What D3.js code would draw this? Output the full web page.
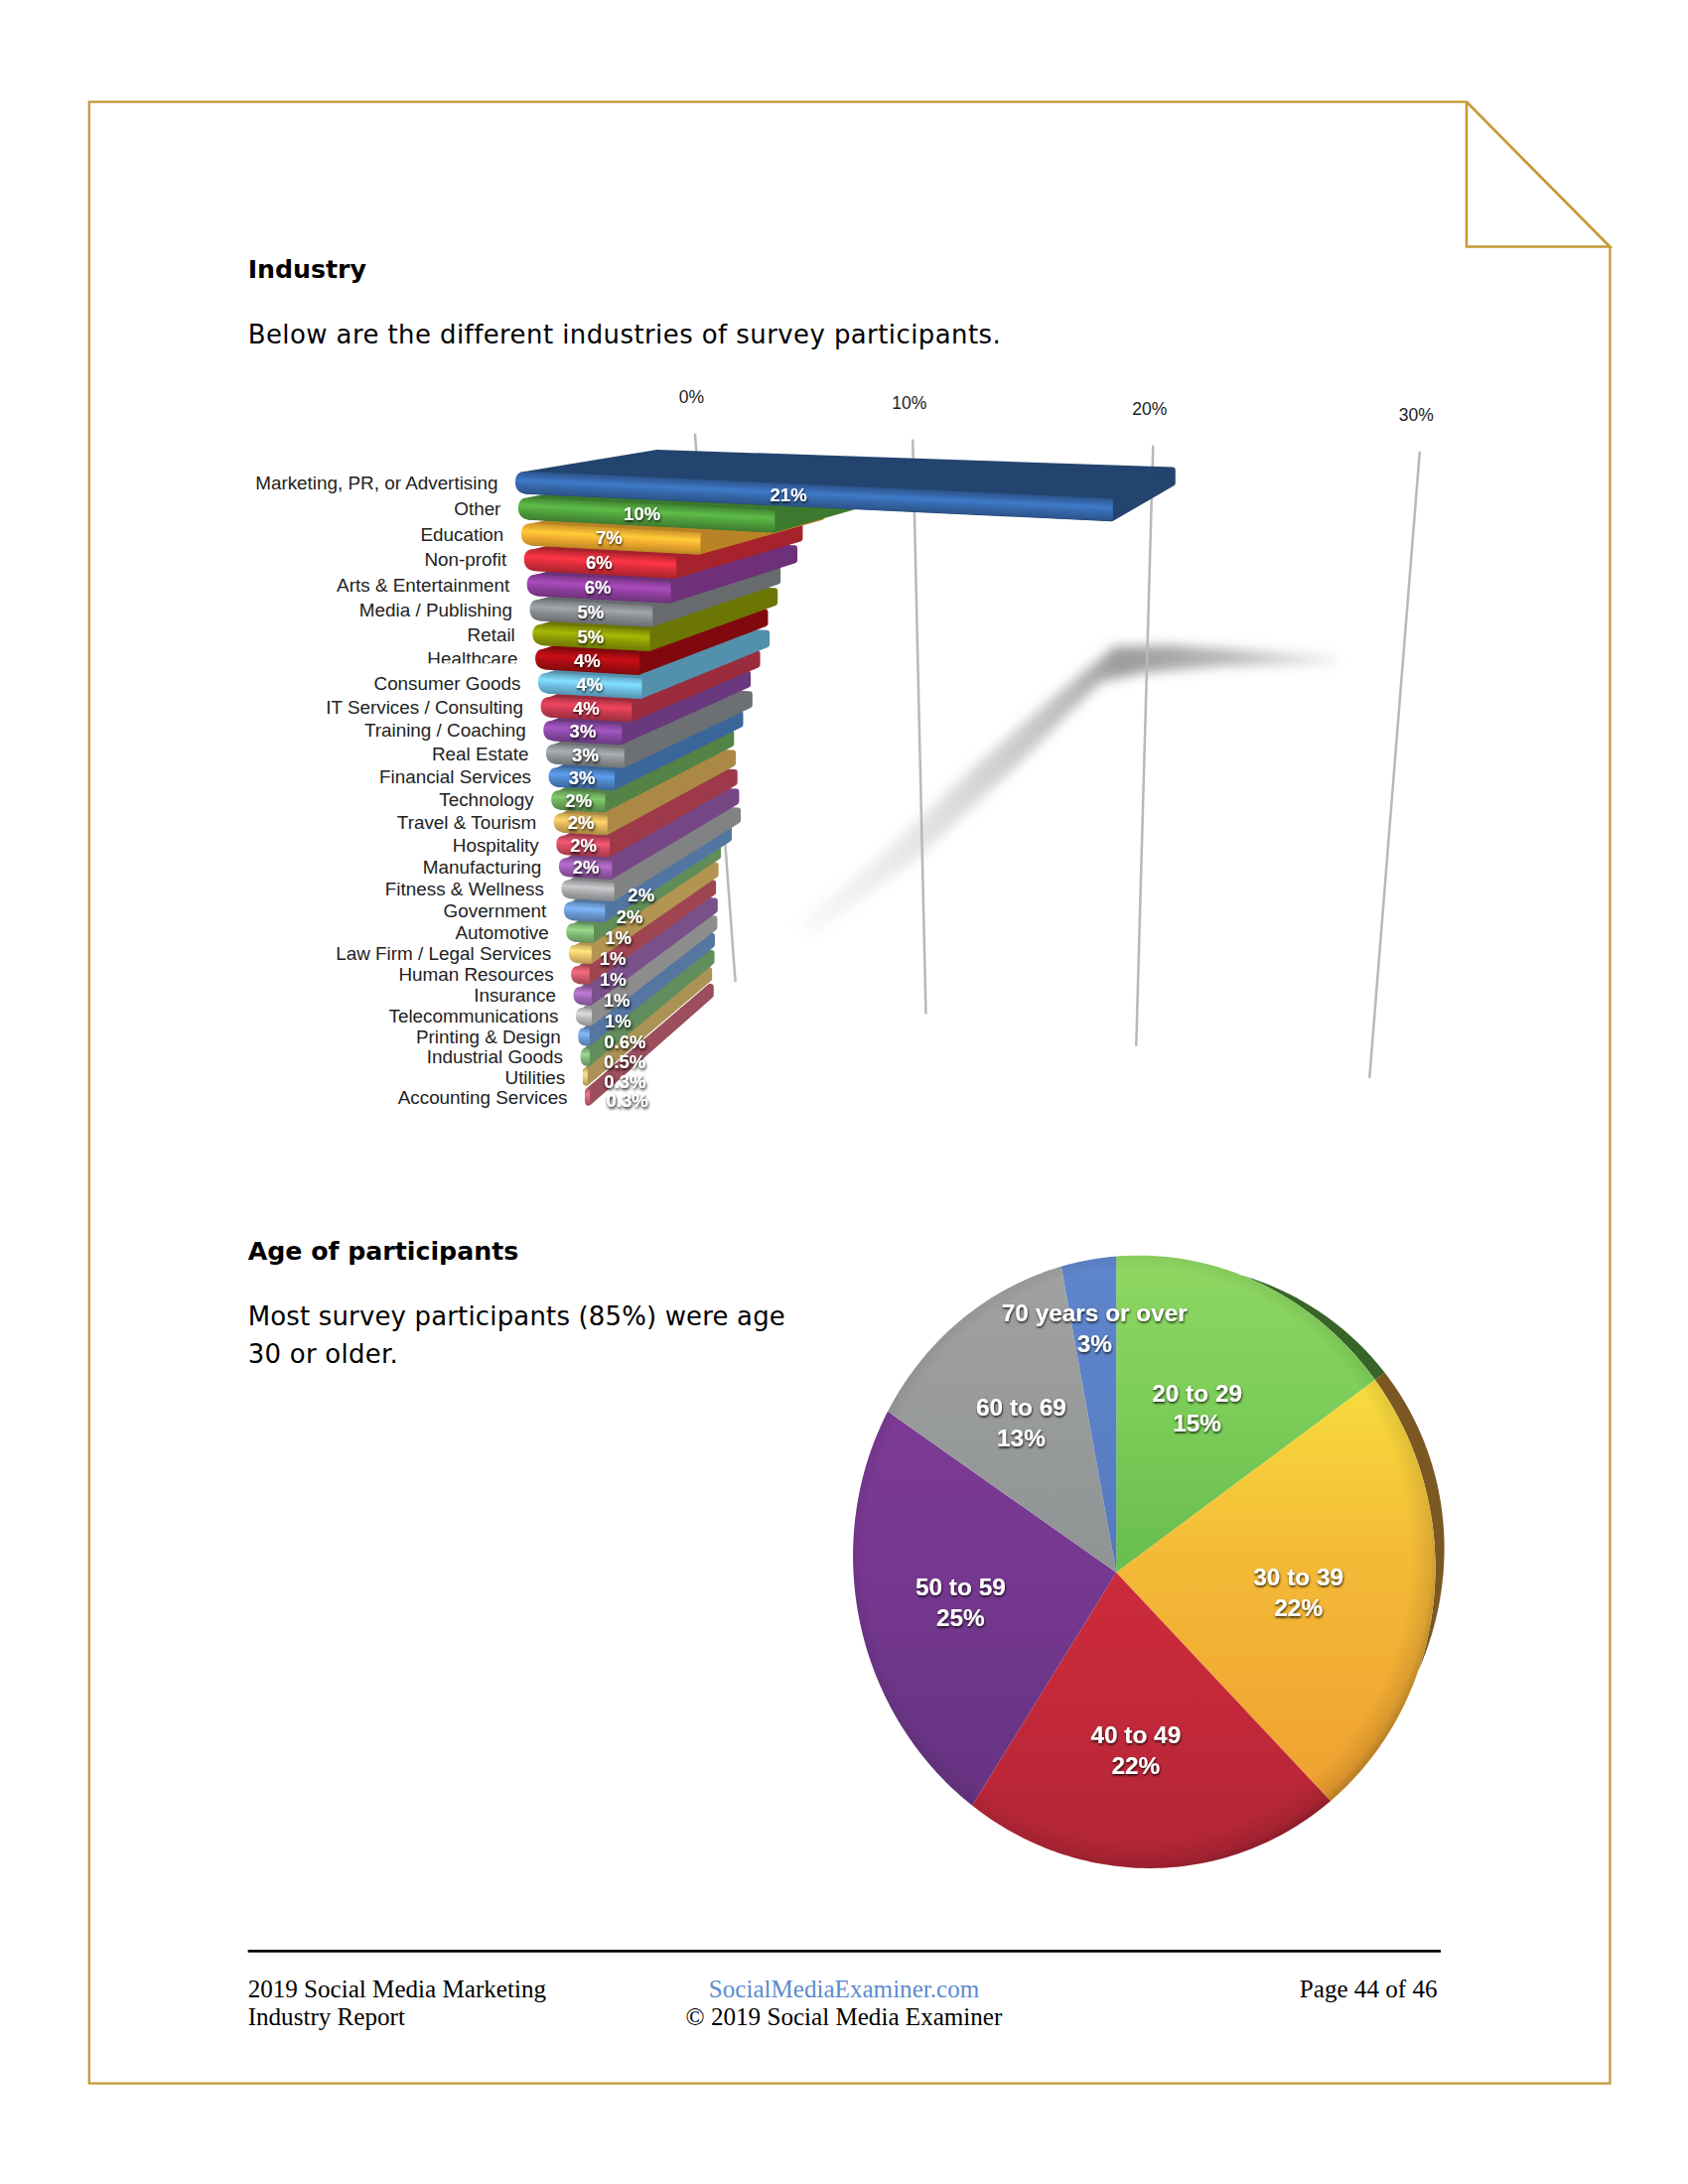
<!DOCTYPE html>
<html><head><meta charset="utf-8">
<script src="https://cdn.jsdelivr.net/npm/d3@7"></script>
<style>html,body{margin:0;padding:0;background:#fff}svg{display:block}</style>
</head><body><svg id="c" width="1700" height="2200" viewBox="0 0 1212 1568"></svg>
<script>
// ---- data ----
const industries=["Marketing, PR, or Advertising","Other","Education","Non-profit","Arts & Entertainment","Media / Publishing","Retail","Healthcare","Consumer Goods","IT Services / Consulting","Training / Coaching","Real Estate","Financial Services","Technology","Travel & Tourism","Hospitality","Manufacturing","Fitness & Wellness","Government","Automotive","Law Firm / Legal Services","Human Resources","Insurance","Telecommunications","Printing & Design","Industrial Goods","Utilities","Accounting Services"];
const industryValues=[21,10,7.2,6.2,5.9,5.1,4.9,4.4,4.4,3.9,3.4,3.4,2.9,2.4,2.4,2.4,2.4,2.4,1.9,1.3,1.1,0.9,0.9,0.8,0.6,0.5,0.3,0.3];
const industryLabels=["21%","10%","7%","6%","6%","5%","5%","4%","4%","4%","3%","3%","3%","2%","2%","2%","2%","2%","2%","1%","1%","1%","1%","1%","0.6%","0.5%","0.3%","0.3%"];
const axisTicks=[0,10,20,30];
const ageGroups=["20 to 29","30 to 39","40 to 49","50 to 59","60 to 69","70 years or over"];
const ageValues=[15,22.4,21.7,25,12.9,3];
// ---- styles ----
const barColors=["#3566a8","#4f9e3c","#f0ab2f","#d92c3a","#8e3f9e","#888c90","#8d9a05","#a80c12","#6dbce0","#c93a50","#8a49a5","#8f9396","#4d85c8","#6cab5b","#dfb35a","#cf4a60","#9b5cae","#a8aaac","#6b9ad2","#7fb873","#e8c36a","#cf5a6a","#a068b5","#b8b8b8","#6f9ad2","#80b878","#e0c070","#cc6678"];
const pieTop=["#8fd763","#f7dd3e","#cb2b3a","#7c3a94","#a0a2a2","#5f86cc"];
const pieMid=["#7fcf5a","#f4bb37","#c5293a","#763890","#9a9c9c","#5b82c8"];
const pieBottom=["#68bd4e","#efa030","#b02535","#663380","#909494","#5679be"];
const rimColors={0:"#386428",1:"#7b5722"};
const labelNudge={17:[38,4],18:[32,4],19:[27,4],20:[23,4],21:[23,4],22:[24,4],23:[24,4],24:[29,4],25:[28,4],26:[28,4],27:[28,3]};

const svg=d3.select("#c");
const defs=svg.append("defs");
const gold="#c49a35";
// ---- filters ----
const f1=defs.append("filter").attr("id","ts").attr("x","-30%").attr("y","-40%").attr("width","160%").attr("height","180%");
f1.append("feDropShadow").attr("dx",0.4).attr("dy",1.1).attr("stdDeviation",0.8).attr("flood-color","#000").attr("flood-opacity",0.85);
const f2=defs.append("filter").attr("id","ts2").attr("x","-40%").attr("y","-50%").attr("width","180%").attr("height","200%");
f2.append("feDropShadow").attr("dx",0.5).attr("dy",1.3).attr("stdDeviation",1.1).attr("flood-color","#000").attr("flood-opacity",1);
defs.append("filter").attr("id","blur").attr("x","-20%").attr("y","-20%").attr("width","140%").attr("height","140%")
  .append("feGaussianBlur").attr("stdDeviation",4);
// ---- page frame ----
svg.append("path").attr("d","M1053 73 H64 V1496 H1156 V177 Z").attr("fill","none").attr("stroke",gold).attr("stroke-width",1.6);
svg.append("path").attr("d","M1053 73 V177 H1156 L1053 73").attr("fill","none").attr("stroke",gold).attr("stroke-width",1.8);
function txt(x,y,s,o={}){const t=svg.append("text").attr("x",x).attr("y",y).text(s)
  .attr("font-family",o.ff||"DejaVu Sans").attr("font-size",o.fs||18.5).attr("font-weight",o.fw||"normal")
  .attr("text-anchor",o.a||"start").attr("fill",o.c||"#000");
  if(o.ls)t.attr("letter-spacing",o.ls);return t;}
txt(178,199.5,"Industry",{fw:"bold",fs:18});
txt(178,246.5,"Below are the different industries of survey participants.",{ls:0.31});
txt(178,904.5,"Age of participants",{fw:"bold",fs:18});
txt(178,951.5,"Most survey participants (85%) were age",{ls:0.13});
txt(178,978.5,"30 or older.",{ls:0.2});
svg.append("line").attr("x1",178).attr("x2",1034.5).attr("y1",1401).attr("y2",1401).attr("stroke","#000").attr("stroke-width",2);
const sf={ff:"Liberation Serif",fs:17.9};
txt(178,1434,"2019 Social Media Marketing",sf);
txt(178,1454,"Industry Report",sf);
txt(606,1434,"SocialMediaExaminer.com",{...sf,a:"middle",c:"#5b8bd0"});
txt(606,1454,"© 2019 Social Media Examiner",{...sf,a:"middle"});
txt(1032,1434,"Page 44 of 46",{...sf,a:"end"});

// ---- perspective scales (bar chart) ----
const lastRow=industries.length-1;
const rowY=i=>346+18.8*i/(1+0.00557*i);
const xLeftOfY=d3.scaleLinear([rowY(0),rowY(lastRow)],[370,420]);
const xLeft=i=>xLeftOfY(rowY(i));
const depthX=d3.scaleLinear([0,lastRow],[100,88]);
const narrow=d3.scaleLinear([0,lastRow],[1,0.885]);
const frontX=d3.scaleLinear([0,30],[0,515.1]);
const rearX=d3.scaleLinear([0,30],[0,481.8]);
const gridX=d3.scaleLinear([0,30],[0,447]);
const persp=(scale,c)=>v=>scale(v)/(1-c*v);
const frontSpan=persp(frontX,0.0077),rearSpan=persp(rearX,0.00465),gridSpan=persp(gridX,0.0047);
const halfH=i=>(rowY(i+1)-rowY(i))*0.43;
function P(v,i,z,off=0){
  const span=(z?rearSpan(v):frontSpan(v))*narrow(i);
  const x=xLeft(i)+(z?depthX(i):0)+span;
  const y=rowY(i)+0.95*v-(z?16.5+0.35*v+2.2*i:0);
  return [x,y+off*halfH(i)*(z?0.85:1)];
}
// shadow on the floor
const shG=defs.append("linearGradient").attr("id","shg").attr("gradientUnits","userSpaceOnUse").attr("x1",565).attr("x2",965).attr("y1",0).attr("y2",0);
[[0,0.02],[0.25,0.24],[0.5,0.55],[0.6,0.85],[0.8,0.6],[1,0.08]].forEach(s=>shG.append("stop").attr("offset",s[0]).attr("stop-color","#8a8a8a").attr("stop-opacity",s[1]));
svg.append("path").attr("filter","url(#blur)").attr("fill","url(#shg)")
 .attr("d","M570 666 L640 607 L700 550 L760 497 L800 464 L840 463 L960 471 L960 477 L880 478 L820 483 L790 490 L735 545 L660 615 L585 670 Z");
// grid
const gridTopX=v=>499+gridSpan(v);
const gridBotX=v=>528+gridSpan(v)*0.875;
const gridTopY=d3.scaleLinear([0,30],[311,324]);
const gridBotY=d3.scaleLinear([0,30],[705,774]);
axisTicks.forEach(t=>{
  svg.append("line").attr("x1",gridTopX(t)).attr("y1",gridTopY(t)).attr("x2",gridBotX(t)).attr("y2",gridBotY(t)).attr("stroke","#b9b9b9").attr("stroke-width",1.8);
  txt(gridTopX(t)-2.5,gridTopY(t)-22,t+"%",{ff:"Liberation Sans",fs:12.5,a:"middle",c:"#222"});
});
// bars (bottom row first)
const lineGen=d3.line();
d3.range(lastRow,-1,-1).forEach(i=>{
  const v=industryValues[i],c=d3.color(barColors[i]);
  const sideCol=c.darker(i===0?1.15:0.75);
  const a=P(0,i,0,-1),b=P(v,i,0,-1),e=P(v,i,0,1),g=P(0,i,0,1),r=Math.min(halfH(i),(b[0]-a[0])*0.5);
  const s=(b[1]-a[1])/(b[0]-a[0]),hh=halfH(i),n=Math.hypot(s,1),m=P(v/2,i,0);
  const inset=([x,y],dx,dy)=>[x+dx,y+dy];
  const side=[inset(a,r,s*r+2),inset(P(0,i,1,-1),2,2.2),inset(P(v,i,1,-1),-2,2.2),inset(P(v,i,1,1),-2,-2.2),inset(e,-2,-2),inset(g,r,s*r-2)];
  svg.append("path").attr("d",lineGen(side)+"Z").attr("fill",sideCol).attr("stroke",sideCol).attr("stroke-width",4.4).attr("stroke-linejoin","round");
  const gid="bg"+i,gr=defs.append("linearGradient").attr("id",gid).attr("gradientUnits","userSpaceOnUse")
    .attr("x1",m[0]+s*hh/n).attr("y1",m[1]-hh/n).attr("x2",m[0]-s*hh/n).attr("y2",m[1]+hh/n);
  [[0,c.darker(0.4)],[0.35,c.brighter(0.5)],[0.62,c],[1,c.darker(0.65)]].forEach(q=>gr.append("stop").attr("offset",q[0]).attr("stop-color",q[1]));
  const p=d3.path();
  p.moveTo(a[0]+r,a[1]+s*r);p.lineTo(b[0]-3,b[1]-s*3);p.quadraticCurveTo(b[0],b[1],b[0]-1,b[1]+3);
  p.lineTo(e[0]-1,e[1]-3);p.quadraticCurveTo(e[0],e[1],e[0]-4,e[1]-s*4);p.lineTo(g[0]+r,g[1]+s*r);
  p.bezierCurveTo(g[0]+r*0.3,g[1]+s*r*0.3,g[0],g[1]-hh*0.4,g[0],(a[1]+g[1])/2);
  p.bezierCurveTo(a[0],a[1]+hh*0.4,a[0]+r*0.3,a[1]+s*r*0.3,a[0]+r,a[1]+s*r);p.closePath();
  svg.append("path").attr("d",p.toString()).attr("fill","url(#"+gid+")");
});
// category labels
const healthIdx=industries.indexOf("Healthcare");
defs.append("clipPath").attr("id","hc").append("rect").attr("x",250).attr("width",200).attr("y",rowY(healthIdx)-12).attr("height",15.6);
industries.forEach((d,i)=>{
  const t=txt(xLeft(i)-12.5,rowY(i)+5,d,{ff:"Liberation Sans",fs:13.45,a:"end",c:"#222"});
  if(i===healthIdx)t.attr("clip-path","url(#hc)");
});
// value labels
industryLabels.forEach((d,i)=>{
  const m=P(industryValues[i]/2,i,0),nd=labelNudge[i]||[0,0];
  txt(m[0]+nd[0],m[1]+nd[1]+4,d,{ff:"Liberation Sans",fs:13.2,fw:"bold",a:"middle",c:"#fff"}).attr("filter",i>=10?"url(#ts2)":"url(#ts)");
});

// ---- pie with a perspective tilt ----
const pcx=801.5,pcy=1129,pA=207,pC=5,pD=218.7,pG=-0.0957,pH=0.0365;
function pt(theta,r){const u=r*Math.sin(theta),w0=-r*Math.cos(theta),w=1+pG*u+pH*w0;return [pcx+pA*u/w,pcy+(pC*u+pD*w0)/w];}
const arcs=d3.pie().sort(null)(ageValues);
const sample=(a0,a1,r=()=>1)=>d3.range(0,81).map(k=>{const t=a0+(a1-a0)*k/80;return pt(t,r(t));});
// rim on the far right
const rad=d=>d*Math.PI/180;
const rimR=t=>1+0.037*Math.sin(Math.PI*(t-rad(24))/(rad(106)-rad(24)));
[[rad(24),arcs[0].endAngle,0],[arcs[0].endAngle,rad(106),1]].forEach(q=>{
  const pts=sample(q[0],q[1],rimR).concat(sample(q[0],q[1]).reverse());
  svg.append("path").attr("d",lineGen(pts)+"Z").attr("fill",rimColors[q[2]]);
});
arcs.forEach((a,i)=>{
  const g=defs.append("linearGradient").attr("id","pg"+i).attr("gradientUnits","userSpaceOnUse").attr("x1",0).attr("x2",0);
  const ptsA=[[pcx,pcy]].concat(sample(a.startAngle,a.endAngle));
  const ys=ptsA.map(p=>p[1]);g.attr("y1",d3.min(ys)).attr("y2",d3.max(ys));
  g.append("stop").attr("offset",0).attr("stop-color",pieTop[i]);
  g.append("stop").attr("offset",0.4).attr("stop-color",pieMid[i]);
  g.append("stop").attr("offset",1).attr("stop-color",pieBottom[i]);
  svg.append("path").attr("d",lineGen(ptsA)+"Z").attr("fill","url(#pg"+i+")");
});
const ov=defs.append("radialGradient").attr("id","edge").attr("cx",0.49).attr("cy",0.49).attr("r",0.52);
[[0,0],[0.9,0],[0.97,0.1],[1,0.25]].forEach(s=>ov.append("stop").attr("offset",s[0]).attr("stop-color","#000").attr("stop-opacity",s[1]));
svg.append("path").attr("d",lineGen(sample(0,2*Math.PI))+"Z").attr("fill","url(#edge)");
// pie labels
const labelR=[0.58,0.59,0.58,0.58,0.58,0.785];
const pieNudge=[[1,-1],[2,1],[1,3],[-1,-1],[-2,-2],[0,0]];
arcs.forEach((a,i)=>{
  const p=pt((a.startAngle+a.endAngle)/2,labelR[i]);
  const x=p[0]+pieNudge[i][0],y=p[1]+pieNudge[i][1];
  txt(x,y-5,ageGroups[i],{ff:"Liberation Sans",fs:17.4,fw:"bold",a:"middle",c:"#fff"}).attr("filter","url(#ts)");
  txt(x,y+17,Math.round(ageValues[i])+"%",{ff:"Liberation Sans",fs:17.4,fw:"bold",a:"middle",c:"#fff"}).attr("filter","url(#ts)");
});
</script></body></html>
